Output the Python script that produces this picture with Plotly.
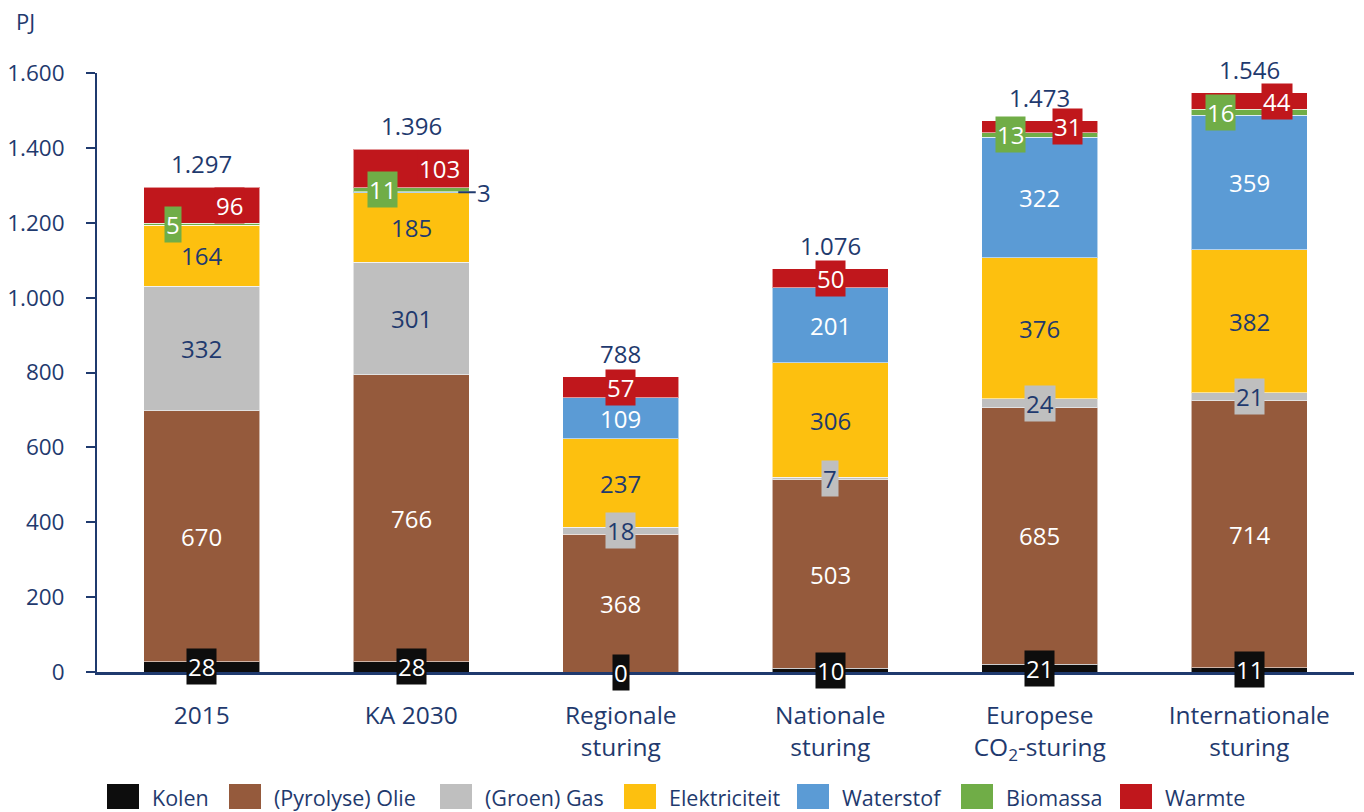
import plotly.graph_objects as go

# Final energy demand per scenario (PJ)
categories = ["2015", "KA 2030", "Regionale<br>sturing", "Nationale<br>sturing",
              "Europese<br>CO<sub>2</sub>-sturing", "Internationale<br>sturing"]

kolen = [28, 28, 0, 10, 21, 11]
olie = [670, 766, 368, 503, 685, 714]
gas = [332, 301, 18, 7, 24, 21]
elektriciteit = [164, 185, 237, 306, 376, 382]
waterstof = [0, 3, 109, 201, 322, 359]
biomassa = [5, 11, 0, 0, 13, 16]
warmte = [96, 103, 57, 50, 31, 44]
totals = ["1.297", "1.396", "788", "1.076", "1.473", "1.546"]

series_names = ["Kolen", "(Pyrolyse) Olie", "(Groen) Gas", "Elektriciteit",
                "Waterstof", "Biomassa", "Warmte"]
series_values = [kolen, olie, gas, elektriciteit, waterstof, biomassa, warmte]
series_colors = ["#0D0D0D", "#955A3C", "#BFBFBF", "#FDC00F",
                 "#5B9BD5", "#70AD47", "#C0171C"]

NAVY = "#1F3A6E"
FONT = "Open Sans"
LABEL_SIZE = 24

fig = go.Figure()
for name, vals, col in zip(series_names, series_values, series_colors):
    fig.add_trace(go.Bar(
        x=categories, y=vals, name=name, marker_color=col,
        marker_line=dict(color="rgba(255,255,255,0.55)", width=1),
        showlegend=False, hoverinfo="y+name",
    ))

annotations = []

# segment labels (annotation x uses the category index)
cum = [0] * len(categories)
for name, vals, col in zip(series_names, series_values, series_colors):
    for i, v in enumerate(vals):
        mid = cum[i] + v / 2
        cum[i] += v
        ann = dict(x=i, y=mid, text=str(v), showarrow=False,
                   font=dict(family=FONT, size=LABEL_SIZE, color="white"),
                   xanchor="center", yanchor="middle", borderpad=1)
        if name == "Kolen":
            ann.update(bgcolor=col)
        elif name == "(Pyrolyse) Olie":
            pass
        elif name == "(Groen) Gas":
            ann["font"]["color"] = NAVY
            if v < 50:
                ann.update(bgcolor=col)
        elif name == "Elektriciteit":
            ann["font"]["color"] = NAVY
        elif name == "Waterstof":
            if v == 0:
                continue
            if v < 20:
                # thin slice: label beside the bar with a short leader line
                ann.update(showarrow=True, arrowhead=0, arrowwidth=2,
                           arrowcolor=NAVY, ax=26, ay=0, xshift=47,
                           font=dict(family=FONT, size=LABEL_SIZE, color=NAVY))
        elif name == "Biomassa":
            if v == 0:
                continue
            ann.update(bgcolor=col, xshift=-29)
        elif name == "Warmte":
            ann.update(bgcolor=col)
            if biomassa[i] > 0:
                ann.update(xshift=28)
        annotations.append(ann)

# totals above the stacks
for i, t in enumerate(totals):
    annotations.append(dict(
        x=i, y=cum[i], text=t, showarrow=False,
        font=dict(family=FONT, size=LABEL_SIZE, color=NAVY),
        xanchor="center", yanchor="bottom", yshift=5))

# unit label
annotations.append(dict(
    xref="paper", yref="paper", x=-0.066, y=1.0, yshift=52,
    text="PJ", showarrow=False, xanchor="left", yanchor="middle",
    font=dict(family=FONT, size=22, color=NAVY)))

# legend drawn as squares + text along the bottom
legend_x = [107, 229, 440, 624, 797, 961, 1120]
shapes = []
for name, col, lx in zip(series_names, series_colors, legend_x):
    shapes.append(dict(type="rect", xref="paper", yref="paper",
                       x0=(lx - 97) / 1257, x1=(lx + 32 - 97) / 1257,
                       y0=-(809 - 672) / 599, y1=-(784 - 672) / 599,
                       fillcolor=col, line=dict(width=0)))
    annotations.append(dict(
        xref="paper", yref="paper", x=(lx + 43 - 97) / 1257,
        y=-(797 - 672) / 599, text=name, showarrow=False,
        xanchor="left", yanchor="middle",
        font=dict(family=FONT, size=21.5, color=NAVY)))

fig.update_layout(
    barmode="stack", bargap=0.446,
    width=1364, height=812,
    margin=dict(l=97, r=10, t=73, b=140, autoexpand=False),
    paper_bgcolor="white", plot_bgcolor="white",
    separators=",.",
    annotations=annotations, shapes=shapes,
    showlegend=False,
    font=dict(family=FONT, color=NAVY),
    xaxis=dict(type="category", range=[-0.5, len(categories) - 0.5],
               showline=True, linecolor=NAVY, linewidth=2.5, automargin=False,
               ticks="", showgrid=False, zeroline=False, tickangle=0,
               tickfont=dict(family=FONT, size=24.5, color=NAVY),
               ticklabelstandoff=20),
    yaxis=dict(range=[0, 1600], tickvals=list(range(0, 1601, 200)),
               tickformat=",d", showline=True, linecolor=NAVY, linewidth=2,
               automargin=False,
               ticks="outside", ticklen=9, tickwidth=2, tickcolor=NAVY,
               showgrid=False, zeroline=False,
               tickfont=dict(family=FONT, size=22.5, color=NAVY),
               ticklabelstandoff=17),
)

fig.write_html("out.html")
